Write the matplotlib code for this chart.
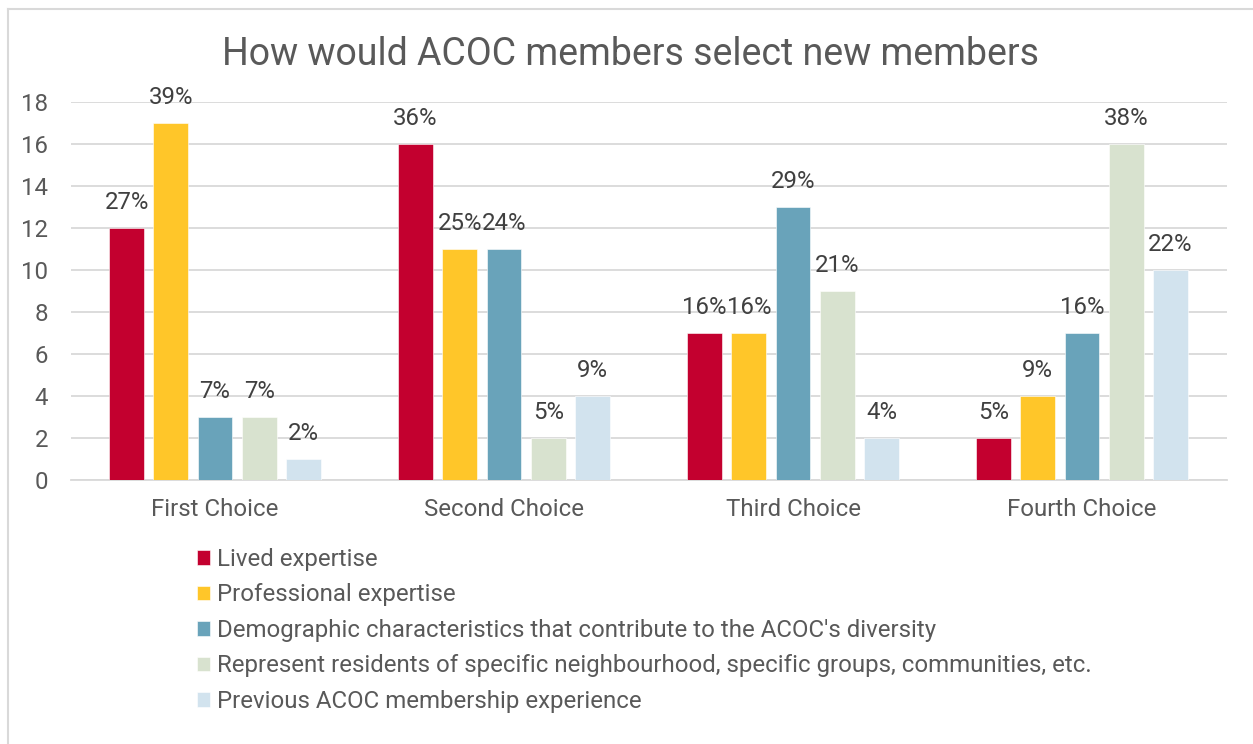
import matplotlib.pyplot as plt
import numpy as np
from matplotlib.lines import Line2D

plt.rcParams['font.family'] = ['Roboto', 'DejaVu Sans']

categories = ['First Choice', 'Second Choice', 'Third Choice', 'Fourth Choice']
series = ['Lived expertise',
          'Professional expertise',
          "Demographic characteristics that contribute to the ACOC's diversity",
          'Represent residents of specific neighbourhood, specific groups, communities, etc.',
          'Previous ACOC membership experience']
counts = [
    [12, 16, 7, 2],
    [17, 11, 7, 4],
    [3, 11, 13, 7],
    [3, 2, 9, 16],
    [1, 4, 2, 10],
]
percents = [
    ['27%', '36%', '16%', '5%'],
    ['39%', '25%', '16%', '9%'],
    ['7%', '24%', '29%', '16%'],
    ['7%', '5%', '21%', '38%'],
    ['2%', '9%', '4%', '22%'],
]
colors = ['#C3002F', '#FFC629', '#69A3BA', '#D8E2CF', '#D2E3EE']

grid_c = '#D9D9D9'
text_c = '#595959'
label_c = '#404040'
fs = 17.3

fig = plt.figure(figsize=(12.53, 7.44), dpi=100)
ax = fig.add_axes([70.5 / 1253, 264 / 744, 1156 / 1253, 378 / 744])

x = np.arange(len(categories))
step = 0.153
width = 0.121
for i, name in enumerate(series):
    pos = x + (i - 2) * step
    bars = ax.bar(pos, counts[i], width, color=colors[i], label=name,
                  edgecolor='white', linewidth=0.4, zorder=3)
    for b, p in zip(bars, percents[i]):
        ax.annotate(p, (b.get_x() + b.get_width() / 2, b.get_height()),
                    xytext=(0, 10), textcoords='offset points',
                    ha='center', va='bottom', fontsize=fs, color=label_c)

ax.set_xlim(-0.5, len(categories) - 0.5)
ax.set_ylim(0, 18)
ax.set_yticks(range(0, 19, 2))
ax.set_xticks(x)
ax.set_xticklabels(categories)
ax.tick_params(axis='both', length=0, labelsize=fs, colors=text_c)
ax.tick_params(axis='x', pad=13)
ax.tick_params(axis='y', pad=16)
ax.yaxis.grid(True, color=grid_c, linewidth=1.3, zorder=0)
ax.set_axisbelow(True)
for s in ['top', 'right', 'left']:
    ax.spines[s].set_visible(False)
ax.spines['bottom'].set_color(grid_c)
ax.spines['bottom'].set_linewidth(1.3)

fig.text(0.503, 1 - 65 / 744, 'How would ACOC members select new members',
         ha='center', va='baseline', fontsize=27, color=text_c)

fig.legend(loc='upper left', bbox_to_anchor=(197 / 1253, 1 - 548 / 744),
           frameon=False, fontsize=fs, handlelength=0.55, handleheight=0.55,
           handletextpad=0.3, labelspacing=0.52, borderpad=0, borderaxespad=0,
           labelcolor=text_c)

# outer chart border (left and top visible)
fig.add_artist(Line2D([7.5 / 1253, 7.5 / 1253], [0, 1 - 9 / 744], color=grid_c, lw=1.5))
fig.add_artist(Line2D([7.5 / 1253, 1], [1 - 9 / 744, 1 - 9 / 744], color=grid_c, lw=1.5))

fig.savefig('out.png', dpi=100)
